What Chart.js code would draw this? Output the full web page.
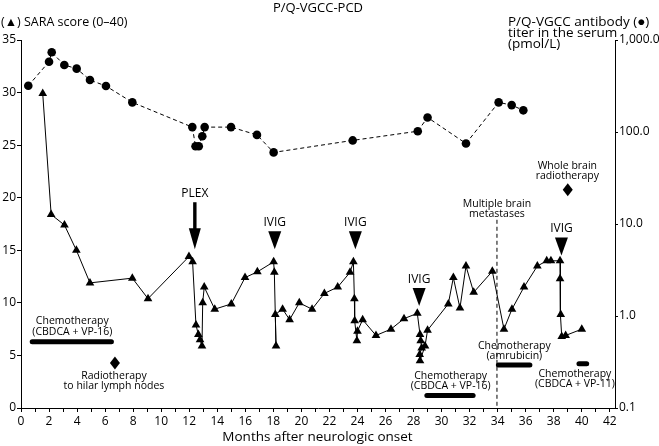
<!DOCTYPE html>
<html>
<head>
<meta charset="utf-8">
<script src="https://cdn.jsdelivr.net/npm/chart.js@4.4.1/dist/chart.umd.min.js"></script>
<style>
  html, body { margin: 0; padding: 0; background: #fff; }
  #wrap { width: 659px; height: 446px; }
</style>
</head>
<body>
<div id="wrap"><canvas id="myChart" width="659" height="446"></canvas></div>
<script>
// SARA score (triangles), left axis
var saraMonths = [1.55, 2.15, 3.1, 3.95, 4.92, 7.94, 9.06, 11.98, 12.24, 12.48, 12.65, 12.77, 12.91, 12.96, 13.07, 13.82,
  15.0, 15.98, 16.86, 18.02, 18.07, 18.19, 18.14, 18.66, 19.16, 19.85, 20.76, 21.64, 22.59, 23.47, 23.71, 23.78, 23.8,
  23.96, 24.0, 24.37, 25.32, 26.39, 27.32, 28.27, 28.46, 28.51, 28.58, 28.44, 28.46, 28.82, 29.0, 30.48, 30.84, 31.31,
  31.74, 32.29, 33.62, 34.45, 35.02, 35.88, 36.83, 37.5, 37.8, 38.45, 38.45, 38.5, 38.57, 38.85, 40.0];
var saraScores = [29.9, 18.4, 17.4, 15.0, 11.9, 12.35, 10.4, 14.4, 13.9, 7.9, 7.0, 6.5, 5.9, 10.0, 11.5, 9.4,
  9.9, 12.4, 12.95, 13.9, 12.9, 5.9, 8.9, 9.4, 8.4, 10.0, 9.4, 10.9, 11.5, 12.9, 13.9, 10.4, 8.3,
  6.4, 7.3, 8.4, 6.9, 7.5, 8.5, 9.0, 7.0, 6.4, 5.7, 5.1, 4.5, 5.9, 7.4, 9.9, 12.4, 9.5,
  13.5, 11.0, 13.0, 7.5, 9.4, 11.5, 13.5, 14.0, 14.0, 14.0, 12.3, 8.9, 6.8, 6.9, 7.5];

// P/Q-VGCC antibody titer (circles), right log axis
var abMonths = [0.52, 2.0, 2.19, 3.09, 3.97, 4.92, 6.06, 7.94, 12.22, 12.45, 12.68, 12.93, 13.1, 14.98, 16.83, 18.02,
  23.66, 28.3, 29.0, 31.74, 34.07, 35.0, 35.83];
var abTiter = [318, 581, 735, 535, 488, 367, 316, 210, 113, 70, 70, 90, 113, 113, 93, 60,
  81, 102, 144, 75, 210, 196, 172];

// tick labels
var saraTicks = [0, 5, 10, 15, 20, 25, 30, 35];
var titerTicks = [0.1, 1, 10, 100, 1000];

// treatments (months, SARA level)
var ivigMonths = [18.1, 23.85, 28.4, 38.55];
var ivigLevels = [15.1, 15.1, 9.7, 14.5];
var chemoStart = [0.8, 28.95, 34.05, 39.8];
var chemoEnd = [6.45, 32.25, 36.3, 40.35];
var chemoLevel = [6.3, 1.2, 4.1, 4.2];

var FONT = '"Open Sans", "Noto Sans", sans-serif';

function font(size) { return size + 'px ' + FONT; }

var annotations = {
  id: 'annotations',
  afterDatasetsDraw: function (chart) {
    var ctx = chart.ctx;
    var xs = chart.scales.x, ys = chart.scales.y;
    function px(m) { return xs.getPixelForValue(m); }
    function py(v) { return ys.getPixelForValue(v); }
    function text(str, x, y, size) {
      ctx.font = font(size || 10.5);
      ctx.fillText(str, x, y);
    }
    ctx.save();
    ctx.fillStyle = '#000';
    ctx.strokeStyle = '#000';
    ctx.textAlign = 'center';
    ctx.textBaseline = 'middle';

    // PLEX arrow
    var ax = px(12.4), tip = py(15.1);
    text('PLEX', ax, tip - 56, 12);
    ctx.fillRect(ax - 1.7, tip - 47, 3.4, 27);
    ctx.beginPath();
    ctx.moveTo(ax - 6, tip - 21);
    ctx.lineTo(ax + 6, tip - 21);
    ctx.lineTo(ax, tip);
    ctx.closePath();
    ctx.fill();

    // IVIG markers
    ivigMonths.forEach(function (m, i) {
      var x = px(m), t = py(ivigLevels[i]);
      text('IVIG', x, t - 26.5, 12);
      ctx.beginPath();
      ctx.moveTo(x - 6.5, t - 18);
      ctx.lineTo(x + 6.5, t - 18);
      ctx.lineTo(x, t);
      ctx.closePath();
      ctx.fill();
    });

    // chemotherapy bars
    ctx.lineCap = 'round';
    ctx.lineWidth = 5;
    chemoStart.forEach(function (s, i) {
      ctx.beginPath();
      ctx.moveTo(px(s), py(chemoLevel[i]));
      ctx.lineTo(px(chemoEnd[i]), py(chemoLevel[i]));
      ctx.stroke();
    });
    ctx.lineCap = 'butt';

    text('Chemotherapy', px(3.66), py(8.23));
    text('(CBDCA + VP-16)', px(3.66), py(7.22));
    text('Chemotherapy', px(30.65), py(3.0));
    text('(CBDCA + VP-16)', px(30.65), py(2.05));
    text('Chemotherapy', px(35.19), py(5.92));
    text('(amrubicin)', px(35.19), py(4.97));
    text('Chemotherapy', px(39.51), py(3.26));
    text('(CBDCA + VP-11)', px(39.51), py(2.31));

    // radiotherapy diamonds
    function diamond(x, y) {
      ctx.beginPath();
      ctx.moveTo(x, y - 6.5);
      ctx.lineTo(x + 5, y);
      ctx.lineTo(x, y + 6.5);
      ctx.lineTo(x - 5, y);
      ctx.closePath();
      ctx.fill();
    }
    diamond(px(6.7), py(4.28));
    text('Radiotherapy', px(6.63), py(3.0));
    text('to hilar lymph nodes', px(6.63), py(2.05));
    diamond(px(39.0), py(20.75));
    text('Whole brain', px(38.97), py(23.06));
    text('radiotherapy', px(38.97), py(22.02));

    // brain metastases line
    ctx.lineWidth = 1;
    ctx.setLineDash([4, 3]);
    ctx.beginPath();
    ctx.moveTo(px(33.95), py(17.9));
    ctx.lineTo(px(33.95), py(0));
    ctx.stroke();
    ctx.setLineDash([]);
    text('Multiple brain', px(33.95), py(19.4));
    text('metastases', px(33.95), py(18.45));

    // titles
    text('P/Q-VGCC-PCD', 318, 8, 13);
    ctx.textAlign = 'left';
    text('(\u25B2) SARA score (0\u201340)', 1, 22, 12.5);
    text('P/Q-VGCC antibody (\u25CF)', 508, 22.5, 13.5);
    text('titer in the serum', 508, 33.5, 13.5);
    text('(pmol/L)', 508, 44.5, 13.5);
    ctx.textAlign = 'center';
    text('Months after neurologic onset', 317.5, 437, 13.5);
    ctx.restore();
  }
};

var ctx = document.getElementById('myChart').getContext('2d');
var myChart = new Chart(ctx, {
  type: 'scatter',
  data: {
    datasets: [{
      label: 'SARA score',
      data: saraMonths.map(function (m, i) { return { x: m, y: saraScores[i] }; }),
      yAxisID: 'y',
      showLine: true,
      borderColor: '#000',
      borderWidth: 1,
      backgroundColor: '#000',
      pointStyle: 'triangle',
      pointRadius: 5,
      pointBorderWidth: 0,
      clip: false
    }, {
      label: 'P/Q-VGCC antibody',
      data: abMonths.map(function (m, i) { return { x: m, y: abTiter[i] }; }),
      yAxisID: 'y2',
      showLine: true,
      borderColor: '#000',
      borderWidth: 1,
      borderDash: [4, 3],
      backgroundColor: '#000',
      pointStyle: 'circle',
      pointRadius: 4.3,
      pointBorderWidth: 0,
      clip: false
    }]
  },
  options: {
    responsive: false,
    animation: false,
    layout: { padding: { top: 40, left: 0, right: 0, bottom: 0 } },
    plugins: { legend: { display: false }, tooltip: { enabled: false } },
    scales: {
      x: {
        type: 'linear',
        min: 0,
        max: 42.37,
        grid: { drawOnChartArea: false, color: '#000', tickLength: 4 },
        border: { color: '#000', width: 1 },
        afterFit: function (s) { s.height = 38; },
        ticks: {
          stepSize: 1,
          includeBounds: false,
          autoSkip: false,
          maxRotation: 0,
          padding: 2,
          color: '#000',
          font: { family: FONT, size: 12 },
          callback: function (v) { return v % 2 === 0 ? String(v) : ''; }
        }
      },
      y: {
        position: 'left',
        min: 0,
        max: 35,
        grid: { drawOnChartArea: false, color: '#000', tickLength: 4 },
        border: { color: '#000', width: 1 },
        afterFit: function (s) { s.width = 21; },
        afterBuildTicks: function (s) { s.ticks = saraTicks.map(function (v) { return { value: v }; }); },
        ticks: { padding: 1, color: '#000', font: { family: FONT, size: 12 } }
      },
      y2: {
        type: 'logarithmic',
        position: 'right',
        min: 0.1,
        max: 1000,
        grid: { drawOnChartArea: false, color: '#000', tickLength: 3 },
        border: { color: '#000', width: 1 },
        afterFit: function (s) { s.width = 44; },
        afterBuildTicks: function (s) { s.ticks = titerTicks.map(function (v) { return { value: v }; }); },
        ticks: {
          padding: 1,
          color: '#000',
          font: { family: FONT, size: 12 },
          callback: function (v) {
            return Number(v).toLocaleString('en-US', { minimumFractionDigits: 1, maximumFractionDigits: 1 });
          }
        }
      }
    }
  },
  plugins: [annotations]
});
</script>
</body>
</html>
